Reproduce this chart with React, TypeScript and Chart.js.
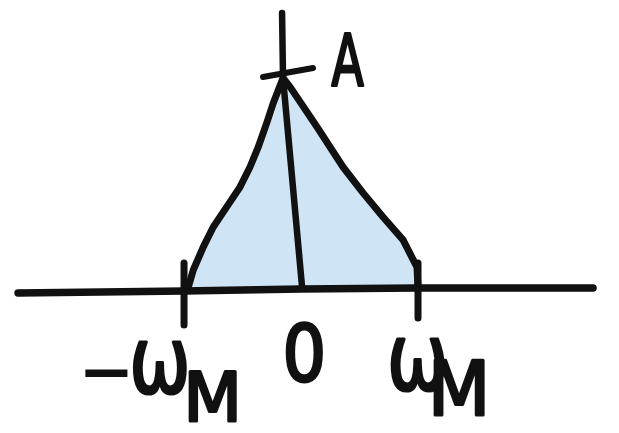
import React, { useEffect, useRef } from "react";
import { Chart, registerables } from "chart.js";

Chart.register(...registerables);

// Frequency axis in units of ω_M, amplitude in units of A.
const tickValues = [-1, 0, 1];
const tickLabels = ["ω", "0", "ω"];
const tickSubscripts = ["M", "", "M"];
const tickPrefixes = ["−", "", ""];
const peakLabel = "A";

// Hand-sketched spectrum outline: rising edge, peak, falling edge.
const leftEdgeX = [-0.963, -0.921, -0.835, -0.75, -0.635, -0.521, -0.436, -0.365, -0.293, -0.237, -0.154];
const leftEdgeY = [0.014, 0.094, 0.203, 0.297, 0.392, 0.486, 0.58, 0.675, 0.788, 0.882, 1.0];
const rightEdgeX = [-0.094, 0.137, 0.359, 0.53, 0.701, 0.872, 0.991, 1.0];
const rightEdgeY = [0.958, 0.769, 0.58, 0.458, 0.344, 0.236, 0.108, 0.014];

// Frequency axis (slightly uneven, drawn by hand).
const axisX = [-2.419, -1, 0, 1, 2.496];
const axisY = [-0.014, -0.005, 0.005, 0.009, 0.009];

// Amplitude axis stub above the peak and the drop line to zero.
const stemX = [-0.162, -0.154, 0.009];
const stemY = [1.307, 1.0, 0.014];

// Short mark crossing the amplitude axis at A.
const peakMarkX = [-0.325, 0.103];
const peakMarkY = [1.005, 1.047];

// Tick marks at ±ω_M.
const tickTop = [0.127, 0.127];
const tickBottom = [-0.165, -0.132];
const tickMarkX = [-1, 1];

const INK = "#111111";
const FILL = "#cfe4f5";
const FONT = '"DejaVu Sans", sans-serif';

const pts = (xs: number[], ys: number[]) => xs.map((x, i) => ({ x, y: ys[i] }));

// Draw text stretched so its ink fills the given box, with a thick pen.
function fitText(
  ctx: CanvasRenderingContext2D,
  text: string,
  l: number,
  t: number,
  r: number,
  b: number,
  pen = 3
) {
  const h = pen / 2;
  l += h;
  r -= h;
  t += h;
  b -= h;
  ctx.save();
  ctx.font = `100px ${FONT}`;
  ctx.textAlign = "left";
  ctx.textBaseline = "alphabetic";
  const m = ctx.measureText(text);
  const inkW = m.actualBoundingBoxLeft + m.actualBoundingBoxRight;
  const inkH = m.actualBoundingBoxAscent + m.actualBoundingBoxDescent;
  const k = (b - t) / inkH;
  const sx = (r - l) / (inkW * k);
  ctx.font = `${100 * k}px ${FONT}`;
  ctx.translate(l + m.actualBoundingBoxLeft * k * sx, b - m.actualBoundingBoxDescent * k);
  ctx.scale(sx, 1);
  ctx.fillStyle = INK;
  ctx.strokeStyle = INK;
  ctx.lineWidth = pen;
  ctx.lineJoin = "round";
  ctx.fillText(text, 0, 0);
  if (pen > 0) ctx.strokeText(text, 0, 0);
  ctx.restore();
}

// Ink boxes of each tick label part, relative to the tick position on the axis.
const labelBoxes = [
  {
    prefix: [-99, 79, -56, 87],
    main: [-52, 50, 3, 105],
    sub: [4, 80, 53, 133],
  },
  { prefix: null, main: [-16, 30, 22, 93], sub: null },
  {
    prefix: null,
    main: [-28, 47, 27, 102],
    sub: [15, 70, 67, 127],
  },
];

const labelPlugin = {
  id: "sketchLabels",
  afterDatasetsDraw(chart: any) {
    const ctx: CanvasRenderingContext2D = chart.ctx;
    const xs = chart.scales.x;
    const ys = chart.scales.y;
    const y0 = ys.getPixelForValue(0);
    tickValues.forEach((v, i) => {
      const px = xs.getPixelForValue(v);
      const box = labelBoxes[i];
      if (tickPrefixes[i] && box.prefix) {
        const [l, t, r, b] = box.prefix;
        fitText(ctx, tickPrefixes[i], px + l, y0 + t, px + r, y0 + b, 0);
      }
      {
        const [l, t, r, b] = box.main;
        fitText(ctx, tickLabels[i], px + l, y0 + t, px + r, y0 + b);
      }
      if (tickSubscripts[i] && box.sub) {
        const [l, t, r, b] = box.sub;
        fitText(ctx, tickSubscripts[i], px + l, y0 + t, px + r, y0 + b);
      }
    });
    const ax = xs.getPixelForValue(leftEdgeX[leftEdgeX.length - 1]);
    const ay = ys.getPixelForValue(leftEdgeY[leftEdgeY.length - 1]);
    fitText(ctx, peakLabel, ax + 47, ay - 46, ax + 82, ay + 9);
  },
};

const stroke = {
  showLine: true,
  borderColor: INK,
  borderWidth: 7,
  borderCapStyle: "round" as const,
  borderJoinStyle: "round" as const,
  pointRadius: 0,
  fill: false,
  tension: 0,
  order: 0,
};

export default function App() {
  const canvasRef = useRef<HTMLCanvasElement | null>(null);

  useEffect(() => {
    const canvas = canvasRef.current;
    if (!canvas) return;
    const spectrum = [
      ...pts(leftEdgeX, leftEdgeY),
      ...pts(rightEdgeX, rightEdgeY),
    ];
    const tickSets = tickMarkX.map((x, i) => ({
      ...stroke,
      data: [
        { x, y: tickTop[i] },
        { x, y: tickBottom[i] },
      ],
    }));
    const chart = new Chart(canvas, {
      type: "scatter",
      data: {
        datasets: [
          {
            ...stroke,
            data: spectrum,
            fill: "origin",
            backgroundColor: FILL,
            order: 10,
          },
          { ...stroke, data: pts(axisX, axisY), borderWidth: 7.5 },
          { ...stroke, data: pts(stemX, stemY), borderWidth: 6.5 },
          { ...stroke, data: pts(peakMarkX, peakMarkY), borderWidth: 6 },
          ...tickSets,
        ],
      },
      options: {
        responsive: false,
        animation: false,
        devicePixelRatio: 1,
        layout: { padding: 0 },
        plugins: {
          legend: { display: false },
          tooltip: { enabled: false },
        },
        scales: {
          x: { type: "linear", min: -2.573, max: 2.718, display: false },
          y: { type: "linear", min: -0.675, max: 1.368, display: false },
        },
      },
      plugins: [labelPlugin],
    });
    return () => chart.destroy();
  }, []);

  return (
    <div style={{ position: "absolute", left: 0, top: 0, width: 619, height: 433, background: "#fff" }}>
      <canvas ref={canvasRef} width={619} height={433} />
    </div>
  );
}
